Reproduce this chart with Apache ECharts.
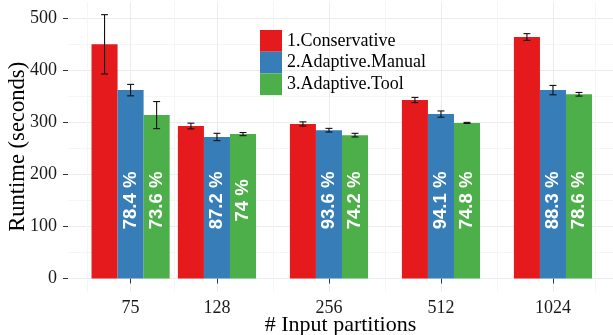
<!DOCTYPE html>
<html><head><meta charset="utf-8">
<script src="https://cdn.jsdelivr.net/npm/echarts@6/dist/echarts.min.js"></script>
<style>html,body{margin:0;padding:0;background:#fff}#c{width:613px;height:335px}</style>
</head><body><div id="c"></div>
<script>
// ---- data ----
const partitions = [75, 128, 256, 512, 1024];
const seriesNames = ['1.Conservative', '2.Adaptive.Manual', '3.Adaptive.Tool'];
const conservative = [450, 293, 297, 343, 464];
const conservativeErr = [57, 5.5, 4, 5, 6.5];
const manual = [362, 272, 285, 316, 362];
const manualErr = [11, 7, 3.5, 6, 9];
const tool = [314, 277.5, 275.5, 299, 354];
const toolErr = [26, 3, 3.5, 1, 3.5];
const manualLabels = ['78.4 %', '87.2 %', '93.6 %', '94.1 %', '88.3 %'];
const toolLabels = ['73.6 %', '74 %', '74.2 %', '74.8 %', '78.6 %'];
const labelY = 150;
const yTicks = [0, 100, 200, 300, 400, 500];
const yMinor = [50, 150, 250, 350, 450];
const xMinor = [57.4, 98, 181, 362, 724, 1328];

// ---- style ----
const colors = ['#E41A1C', '#377EB8', '#4DAF4A'];
const BAR_W = 0.2325;      // in log2 units
const CAP_HALF = 0.031;
const serif = '"Liberation Serif", "DejaVu Serif", serif';
const sans = '"Liberation Sans", Arial, sans-serif';
const X_MIN = 5.670, X_MAX = 10.536, Y_MIN = -25.3, Y_MAX = 531.3;

const lx = v => Math.log2(v);

function barSeries(idx, values, labels) {
  return {
    type: 'custom', name: seriesNames[idx], itemStyle: { color: colors[idx] },
    data: partitions.map((p, k) => [lx(p), values[k]]),
    encode: { x: 0, y: 1 },
    z: 2,
    renderItem(params, api) {
      const x = api.value(0) + (idx - 1) * BAR_W;
      const v = api.value(1);
      const p0 = api.coord([x - BAR_W / 2, 0]);
      const p1 = api.coord([x + BAR_W / 2, v]);
      const children = [{
        type: 'rect',
        shape: { x: p0[0], y: p1[1], width: p1[0] - p0[0], height: p0[1] - p1[1] },
        style: { fill: colors[idx] }
      }];
      if (labels) {
        const pc = api.coord([x, labelY]);
        children.push({
          type: 'text', x: pc[0], y: pc[1], rotation: Math.PI / 2,
          style: { text: labels[params.dataIndex], fill: '#fff', align: 'center', verticalAlign: 'middle',
                   font: 'bold 18.5px ' + sans }
        });
      }
      return { type: 'group', children };
    }
  };
}
function errSeries(idx, values, errs) {
  return {
    type: 'custom', itemStyle: { color: '#111' }, silent: true, z: 3,
    data: partitions.map((p, k) => [lx(p), values[k] - errs[k], values[k] + errs[k]]),
    encode: { x: 0, y: [1, 2] },
    renderItem(params, api) {
      const x = api.value(0) + (idx - 1) * BAR_W;
      const lo = api.coord([x, api.value(1)]);
      const hi = api.coord([x, api.value(2)]);
      const l = api.coord([x - CAP_HALF, 0])[0];
      const r = api.coord([x + CAP_HALF, 0])[0];
      const st = { stroke: '#111', lineWidth: 1.1 };
      return { type: 'group', children: [
        { type: 'line', shape: { x1: lo[0], y1: lo[1], x2: hi[0], y2: hi[1] }, style: st },
        { type: 'line', shape: { x1: l, y1: lo[1], x2: r, y2: lo[1] }, style: st },
        { type: 'line', shape: { x1: l, y1: hi[1], x2: r, y2: hi[1] }, style: st }
      ]};
    }
  };
}

const chart = echarts.init(document.getElementById('c'), null, { renderer: 'canvas' });
chart.setOption({
  animation: false,
  color: colors,
  grid: { left: 68, right: 0, top: 2, bottom: 43.3, containLabel: false, outerBoundsMode: 'none' },
  legend: {
    orient: 'vertical', left: 260, top: 30, itemGap: 0, itemWidth: 22, itemHeight: 21.7,
    icon: 'rect', padding: 0,
    data: seriesNames,
    textStyle: { fontFamily: serif, fontSize: 18, color: '#000' }
  },
  xAxis: [{
    type: 'value', min: X_MIN, max: X_MAX,
    name: '# Input partitions', nameLocation: 'middle', nameGap: 23, nameMoveOverlap: false,
    nameTextStyle: { fontFamily: serif, fontSize: 22, color: '#000' },
    axisLine: { show: false },
    axisTick: { show: true, length: 5, customValues: partitions.map(lx), lineStyle: { color: '#333', width: 1 } },
    axisLabel: { customValues: partitions.map(lx), margin: 8, fontFamily: serif, fontSize: 18, color: '#1a1a1a',
                 formatter: v => String(Math.round(Math.pow(2, v))) },
    splitLine: { show: true, lineStyle: { color: '#EBEBEB', width: 1 } }
  }, {
    type: 'value', min: X_MIN, max: X_MAX, position: 'bottom',
    axisLine: { show: false },
    axisTick: { show: false, customValues: xMinor.map(lx) },
    axisLabel: { show: false, customValues: xMinor.map(lx) },
    splitLine: { show: true, lineStyle: { color: '#F5F5F5', width: 1 } }
  }],
  yAxis: [{
    type: 'value', min: Y_MIN, max: Y_MAX,
    name: 'Runtime (seconds)', nameLocation: 'middle', nameGap: 38, nameRotate: 90, nameMoveOverlap: false,
    nameTextStyle: { fontFamily: serif, fontSize: 22.6, color: '#000' },
    axisLine: { show: false },
    axisTick: { show: true, length: 5, customValues: yTicks, lineStyle: { color: '#333', width: 1 } },
    axisLabel: { customValues: yTicks, margin: 11, fontFamily: serif, fontSize: 18, color: '#1a1a1a' },
    splitLine: { show: true, lineStyle: { color: '#EBEBEB', width: 1 } }
  }, {
    type: 'value', min: Y_MIN, max: Y_MAX, position: 'left',
    axisLine: { show: false },
    axisTick: { show: false, customValues: yMinor },
    axisLabel: { show: false, customValues: yMinor },
    splitLine: { show: true, lineStyle: { color: '#F5F5F5', width: 1 } }
  }],
  series: [
    barSeries(0, conservative, null),
    barSeries(1, manual, manualLabels),
    barSeries(2, tool, toolLabels),
    errSeries(0, conservative, conservativeErr),
    errSeries(1, manual, manualErr),
    errSeries(2, tool, toolErr)
  ]
});
</script></body></html>
